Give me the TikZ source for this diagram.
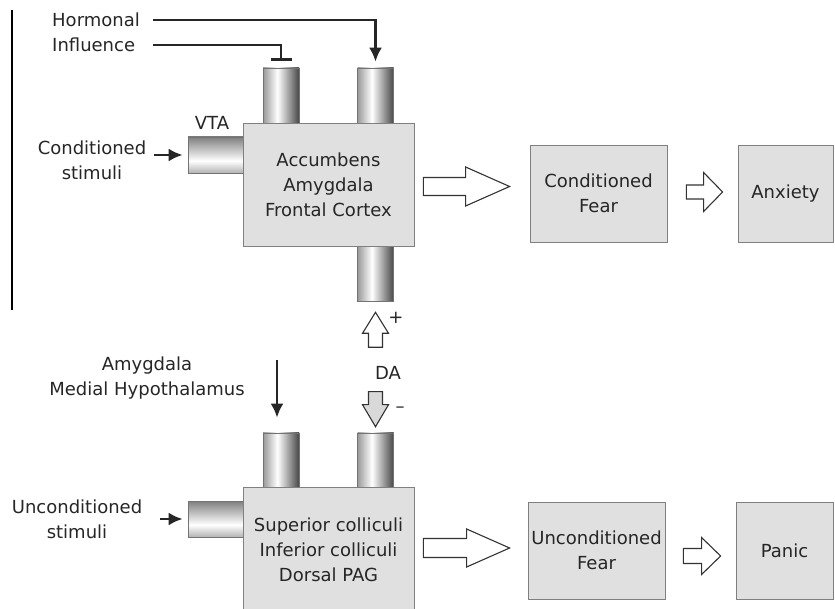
\documentclass[tikz,border=0pt]{standalone}
\usepackage{fontspec}
\setmainfont{DejaVu Sans}
\usetikzlibrary{arrows.meta,calc}

\pgfdeclarehorizontalshading{cylshade}{100bp}{color(0bp)=(black!40); color(25bp)=(black!40); color(45bp)=(white); color(75bp)=(black!72); color(100bp)=(black!72)}
\pgfdeclarehorizontalshading{cylshadeflat}{100bp}{color(0bp)=(black!30); color(25bp)=(black!30); color(42bp)=(white); color(75bp)=(black!50); color(100bp)=(black!50)}

\begin{document}
\begin{tikzpicture}[x=1pt,y=1pt,
  every node/.style={font=\fontsize{18}{25}\selectfont, text=black!85},
  box/.style={draw=black!50, line width=0.8pt, fill=black!12, align=center, inner sep=0pt},
  cyl/.style={draw=black!55, line width=0.6pt, shading=cylshade, inner sep=0pt},
  hcyl/.style={cyl, shading=cylshadeflat, shading angle=90},
  lbl/.style={inner sep=0pt, align=center},
  feed/.style={line width=2.8pt, black!85, -{Latex[length=14pt,width=13pt]}},
  hollow/.style={draw=black!80, line width=1.1pt, fill=white, line join=miter}]
\useasboundingbox (0,0) rectangle (835,608);
\clip (0,0) rectangle (835,608);

\draw[line width=1.2pt] (12,598) -- (12,298);

% upper circuit
\node[cyl, minimum width=36pt, minimum height=55pt] (lcyl) at (281,512.5) {};
\node[cyl, minimum width=36pt, minimum height=55pt] (rcyl) at (375.5,512.5) {};
\node[cyl, minimum width=36pt, minimum height=55pt] (bcyl) at (375.5,334.5) {};
\node[hcyl, minimum width=55pt, minimum height=36pt] (vta) at (215.5,453) {};
\node[box, minimum width=171pt, minimum height=123pt] (acc) at (328.5,423.5) {Accumbens\\Amygdala\\Frontal Cortex};

\node[lbl, anchor=west] (horm) at (52,588) {Hormonal};
\node[lbl, anchor=west] (infl) at (52,563) {Influence};
\node[lbl] (cstim) at (92,448) {Conditioned\\stimuli};
\node[lbl] (vtalbl) at (212,485) {VTA};

\draw[feed, shorten <=13pt, shorten >=6pt] (horm.east) -| (rcyl.north);
\draw[line width=2.8pt, black!85, -{Bar[width=21pt,line width=3pt]}, shorten <=18pt, shorten >=7pt] (infl.east) -| (lcyl.north);
\draw[feed, shorten <=8pt, shorten >=5pt] (cstim.east |- vta.west) -- (vta.west);

% lower circuit
\node[cyl, minimum width=36pt, minimum height=54pt] (blcyl) at (281,148) {};
\node[cyl, minimum width=36pt, minimum height=54pt] (brcyl) at (375.5,148) {};
\node[hcyl, minimum width=55pt, minimum height=36pt] (ucyl) at (215.5,89) {};
\node[box, minimum width=171pt, minimum height=125pt] (sc) at (328.5,58.5) {Superior colliculi\\Inferior colliculi\\Dorsal PAG};

\node[lbl] (amy) at (147,230) {Amygdala\\Medial Hypothalamus};
\coordinate (amyin) at (277,248);
\draw[feed, shorten >=15pt] (amyin) -- (amyin |- blcyl.north);
\node[lbl] (ustim) at (77,89) {Unconditioned\\stimuli};
\draw[feed, shorten <=18pt, shorten >=5pt] (ustim.east |- ucyl.west) -- (ucyl.west);

% dopamine
\node[lbl] (da) at (388,235) {DA};
\node[lbl] (plus) at (396,290) {+};
\node[lbl] (minus) at (400,198) {–};
\draw[hollow] ($(bcyl.south)+(-7,-46)$) -- ($(bcyl.south)+(-7,-32)$) -- ($(bcyl.south)+(-13,-32)$) -- ($(bcyl.south)+(0,-11)$)
  -- ($(bcyl.south)+(13,-32)$) -- ($(bcyl.south)+(7,-32)$) -- ($(bcyl.south)+(7,-46)$) -- cycle;
\draw[hollow, fill=black!15] ($(brcyl.north)+(-7,41)$) -- ($(brcyl.north)+(-7,28)$) -- ($(brcyl.north)+(-13,28)$) -- ($(brcyl.north)+(0,6)$)
  -- ($(brcyl.north)+(13,28)$) -- ($(brcyl.north)+(7,28)$) -- ($(brcyl.north)+(7,41)$) -- cycle;

% outcomes
\node[box, minimum width=137pt, minimum height=97pt] (cfear) at (598.5,414.5) {Conditioned\\Fear};
\node[box, minimum width=95pt, minimum height=97pt] (anx) at (785.5,414.5) {Anxiety};
\node[box, minimum width=137pt, minimum height=97pt] (ufear) at (596.5,57.5) {Unconditioned\\Fear};
\node[box, minimum width=97pt, minimum height=97pt] (panic) at (784.5,57.5) {Panic};

\foreach \a/\b/\dl/\dr/\hl/\yc/\s/\h in {acc/cfear/9/20/44/421.5/9/19.5, cfear/anx/19/15/19/416/7/19.5,
    sc/ufear/9/18/43/60/9.5/19, ufear/panic/18/15/19/52/7.5/18.5} {
\draw[hollow] let \p1=(\a.east), \p2=(\b.west), \n1={\x1+\dl*1pt}, \n2={\x2-\dr*1pt}, \n3={\n2-\hl*1pt} in
  ({\n1},{\yc-\s}) -- ({\n3},{\yc-\s}) -- ({\n3},{\yc-\h}) -- ({\n2},{\yc}) -- ({\n3},{\yc+\h}) -- ({\n3},{\yc+\s}) -- ({\n1},{\yc+\s}) -- cycle;
}
\end{tikzpicture}
\end{document}
